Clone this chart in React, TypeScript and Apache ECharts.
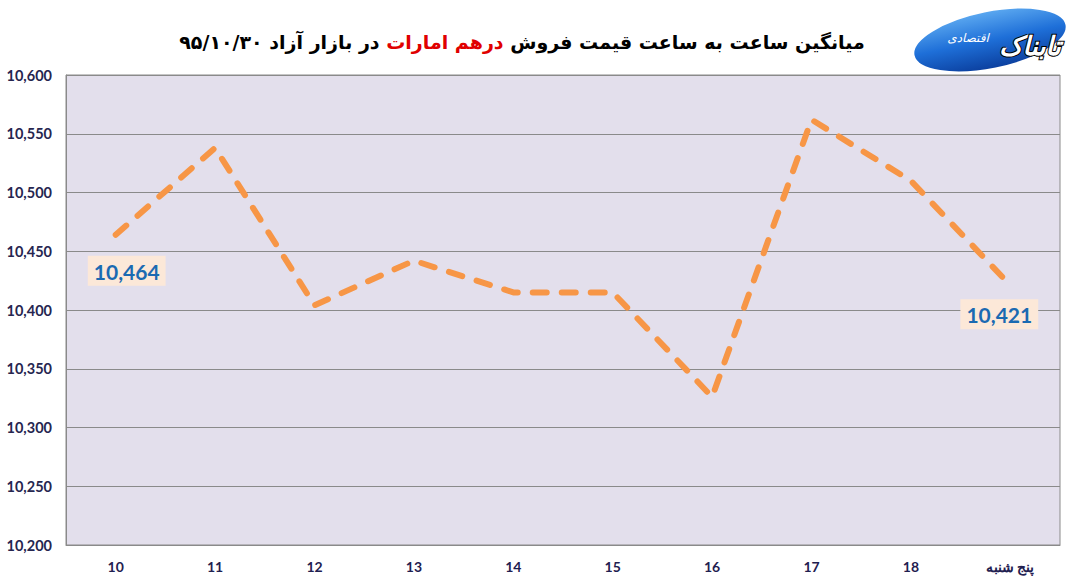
import React, { useEffect, useRef } from "react";
import * as echarts from "echarts";

const categories = ["10", "11", "12", "13", "14", "15", "16", "17", "18", "پنج شنبه"];
const prices = [10464, 10538, 10404, 10442, 10415, 10415, 10326, 10562, 10510, 10421];
const yMin = 10200;
const yMax = 10600;
const yStep = 50;
const titleRight = "میانگین ساعت به ساعت قیمت فروش";
const titleRed = "درهم امارات";
const titleLeft = "در بازار آزاد ۹۵/۱۰/۳۰";
const logoMain = "تابناک";
const logoSub = "اقتصادی";

const fmt = (v: number) => v.toLocaleString("en-US");

export default function App() {
  const ref = useRef<HTMLDivElement>(null);
  useEffect(() => {
    if (!ref.current) return;
    const chart = echarts.init(ref.current, null, { renderer: "svg" });
    const labelStyle = {
      show: true,
      formatter: (p: any) => fmt(p.value),
      color: "#1A6AB2",
      fontFamily: "Lato",
      fontWeight: "bold",
      fontSize: 21,
      backgroundColor: "#FCE8D8",
      padding: [5, 6, 4, 6],
    };
    const data = prices.map((v, i) => {
      if (i === 0) {
        return { value: v, label: { ...labelStyle, position: "bottom", offset: [11, 15] } };
      }
      if (i === prices.length - 1) {
        return { value: v, label: { ...labelStyle, position: "bottom", offset: [-11, 8] } };
      }
      return { value: v };
    });
    chart.setOption({
      animation: false,
      backgroundColor: "#ffffff",
      grid: {
        left: 66,
        right: 8,
        top: 75,
        bottom: 41,
        show: true,
        backgroundColor: "#E3DFEC",
        borderColor: "#8A8A8A",
        borderWidth: 1,
      },
      xAxis: {
        type: "category",
        data: categories,
        boundaryGap: true,
        axisLine: { show: true, lineStyle: { color: "#8A8A8A", width: 1 } },
        axisTick: { show: false },
        axisLabel: {
          margin: 14,
          color: "#1F2050",
          fontFamily: "Lato",
          fontWeight: "bold",
          fontSize: 14,
        },
        splitLine: { show: false },
      },
      yAxis: {
        type: "value",
        min: yMin,
        max: yMax,
        interval: yStep,
        axisLine: { show: true, lineStyle: { color: "#8A8A8A", width: 1 } },
        axisTick: { show: false },
        axisLabel: {
          margin: 14,
          color: "#262650",
          fontFamily: "Lato",
          fontWeight: "bold",
          fontSize: 14.5,
          formatter: (v: number) => fmt(v),
        },
        splitLine: { show: true, lineStyle: { color: "#8A8A8A", width: 1 } },
      },
      series: [
        {
          type: "line",
          data,
          symbol: "circle",
          symbolSize: 2,
          showSymbol: true,
          itemStyle: { color: "rgba(0,0,0,0)", borderWidth: 0 },
          lineStyle: {
            color: "#F79646",
            width: 6,
            type: [14, 15],
            cap: "round",
            join: "round",
          },
          z: 3,
        },
      ],
      graphic: [
        {
          type: "text",
          x: 522,
          y: 42,
          style: {
            text: `{b|${titleLeft}} {r|${titleRed}} {b|${titleRight}}`,
            align: "center",
            verticalAlign: "middle",
            rich: {
              b: { fontFamily: "DejaVu Sans", fontWeight: "bold", fontSize: 19, fill: "#000000", color: "#000000" },
              r: { fontFamily: "DejaVu Sans", fontWeight: "bold", fontSize: 19, fill: "#E00000", color: "#E00000" },
            },
            fontFamily: "DejaVu Sans",
            fontWeight: "bold",
            fontSize: 19,
          },
        },
        {
          type: "group",
          x: 990,
          y: 40,
          rotation: 0.2,
          children: [
            {
              type: "ellipse",
              shape: { cx: 0, cy: 0, rx: 78, ry: 29 },
              style: {
                fill: new echarts.graphic.LinearGradient(0, 0, 0, 1, [
                  { offset: 0, color: "#5BA8F0" },
                  { offset: 0.5, color: "#1E6FD8" },
                  { offset: 1, color: "#0B3F9E" },
                ]),
                stroke: "#ffffff",
                lineWidth: 2,
              },
            },
          ],
        },
        {
          type: "text",
          x: 1030,
          y: 46,
          style: {
            text: logoMain,
            align: "center",
            verticalAlign: "middle",
            fontFamily: "DejaVu Sans",
            fontWeight: "bold",
            fontStyle: "italic",
            fontSize: 26,
            fill: "#ffffff",
            stroke: "#000000",
            lineWidth: 2,
          },
        },
        {
          type: "text",
          x: 968,
          y: 38,
          style: {
            text: logoSub,
            align: "center",
            verticalAlign: "middle",
            fontFamily: "DejaVu Sans",
            fontStyle: "italic",
            fontSize: 12,
            fill: "#ffffff",
          },
        },
      ],
    });
    return () => chart.dispose();
  }, []);
  return <div ref={ref} style={{ width: 1068, height: 586, position: "absolute", left: 0, top: 0 }} />;
}
